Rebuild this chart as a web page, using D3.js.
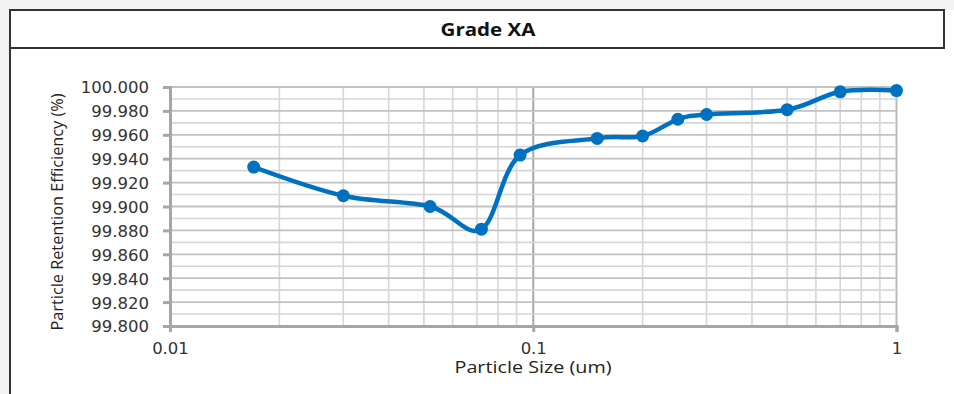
<!DOCTYPE html>
<html><head><meta charset="utf-8">
<script src="https://cdn.jsdelivr.net/npm/d3@7"></script>
<style>
html,body{margin:0;padding:0;background:#f3f3f3;}
svg{display:block;}
</style></head>
<body>
<svg id="chart" width="954" height="394"></svg>
<script>
const chartTitle = "Grade XA";
const xTitle = "Particle Size (um)";
const yTitle = "Particle Retention Efficiency (%)";
const particleSizes = [0.017, 0.030, 0.052, 0.072, 0.092, 0.15, 0.2, 0.25, 0.3, 0.5, 0.7, 1.0];
const efficiency = [99.933, 99.909, 99.900, 99.881, 99.943, 99.957, 99.959, 99.973, 99.977, 99.981, 99.996, 99.997];
const xTickValues = [0.01, 0.1, 1];
const xTickLabels = ["0.01", "0.1", "1"];
const yTickValues = [99.80, 99.82, 99.84, 99.86, 99.88, 99.90, 99.92, 99.94, 99.96, 99.98, 100.00];

const svg = d3.select("#chart");
// panel background
svg.append("rect").attr("x",10).attr("y",10).attr("width",944).attr("height",384).attr("fill","#fff");
svg.append("rect").attr("x",10).attr("y",10).attr("width",934).attr("height",38)
  .attr("fill","#fff").attr("stroke","#333").attr("stroke-width",2);
svg.append("line").attr("x1",10).attr("x2",10).attr("y1",48).attr("y2",394).attr("stroke","#333").attr("stroke-width",2);

svg.append("text").attr("x",488).attr("y",36).attr("text-anchor","middle")
  .attr("font-family","Open Sans, sans-serif").attr("font-weight","bold").attr("font-size",18)
  .attr("fill","#111").attr("textLength", 95).attr("lengthAdjust", "spacingAndGlyphs").text(chartTitle);

const x = d3.scaleLog().domain([0.01, 1]).range([170, 896.5]);
const y = d3.scaleLinear().domain([99.8, 100]).range([326, 87]);

const g = svg.append("g");
// vertical grid
const vMinor = [];
[0.01, 0.1].forEach(b => { for (let k = 2; k <= 9; k++) vMinor.push(b * k); });
g.selectAll(".vmin").data(vMinor).enter().append("line")
  .attr("x1", d => x(d)).attr("x2", d => x(d)).attr("y1", y(100)).attr("y2", y(99.8))
  .attr("stroke", "#d6d6d6").attr("stroke-width", 1.6);
g.append("line").attr("x1", x(0.1)).attr("x2", x(0.1)).attr("y1", y(100)).attr("y2", y(99.8))
  .attr("stroke", "#a8a8a8").attr("stroke-width", 2);
g.append("line").attr("x1", x(1)).attr("x2", x(1)).attr("y1", y(100)).attr("y2", y(99.8))
  .attr("stroke", "#b8b8b8").attr("stroke-width", 2);
// horizontal grid
const hMinor = d3.range(0, 10).map(i => 99.81 + i * 0.02);
g.selectAll(".hmin").data(hMinor).enter().append("line")
  .attr("x1", x(0.01)).attr("x2", x(1)).attr("y1", d => y(d)).attr("y2", d => y(d))
  .attr("stroke", "#d6d6d6").attr("stroke-width", 1.6);
g.selectAll(".hmaj").data(yTickValues.slice(1)).enter().append("line")
  .attr("x1", x(0.01)).attr("x2", x(1)).attr("y1", d => y(d)).attr("y2", d => y(d))
  .attr("stroke", "#c2c2c2").attr("stroke-width", 1.8);

// axes
const yAxis = d3.axisLeft(y).tickValues(yTickValues).tickFormat(d3.format(".3f")).tickSize(7).tickPadding(14);
const ya = svg.append("g").attr("transform", `translate(${x(0.01)},0)`).call(yAxis);
const xAxis = d3.axisBottom(x).tickValues(xTickValues).tickFormat((d,i) => xTickLabels[i]).tickSize(6).tickPadding(10);
const xa = svg.append("g").attr("transform", `translate(0,${y(99.8)})`).call(xAxis);
[ya, xa].forEach(a => {
  a.select(".domain").attr("stroke", "#a6a6a6").attr("stroke-width", 3);
  a.selectAll(".tick line").attr("stroke", "#a6a6a6").attr("stroke-width", 3);
  a.selectAll(".tick text").attr("font-family", "DejaVu Sans, Verdana, sans-serif").attr("font-size", 16.5).attr("fill", "#333");
});
ya.selectAll(".tick text").attr("dy", "0.36em");

// titles
svg.append("text").attr("x", 533).attr("y", 373).attr("text-anchor", "middle")
  .attr("font-family", "Open Sans, sans-serif").attr("font-size", 15.5).attr("fill", "#222")
  .attr("textLength", 157).attr("lengthAdjust", "spacingAndGlyphs").text(xTitle);
svg.append("text").attr("transform", "translate(63,212) rotate(-90)").attr("text-anchor", "middle")
  .attr("font-family", "Open Sans, sans-serif").attr("font-size", 15.5).attr("fill", "#222")
  .attr("textLength", 237).attr("lengthAdjust", "spacingAndGlyphs").text(yTitle);

// series
const pts = particleSizes.map((s, i) => [x(s), y(efficiency[i])]);
svg.append("path").attr("d", d3.line().curve(d3.curveCatmullRom.alpha(0))(pts))
  .attr("fill", "none").attr("stroke", "#0070C0").attr("stroke-width", 4.5).attr("stroke-linejoin","round");
svg.selectAll(".pt").data(pts).enter().append("circle")
  .attr("cx", d => d[0]).attr("cy", d => d[1]).attr("r", 6.5).attr("fill", "#0070C0");
</script>
</body></html>
